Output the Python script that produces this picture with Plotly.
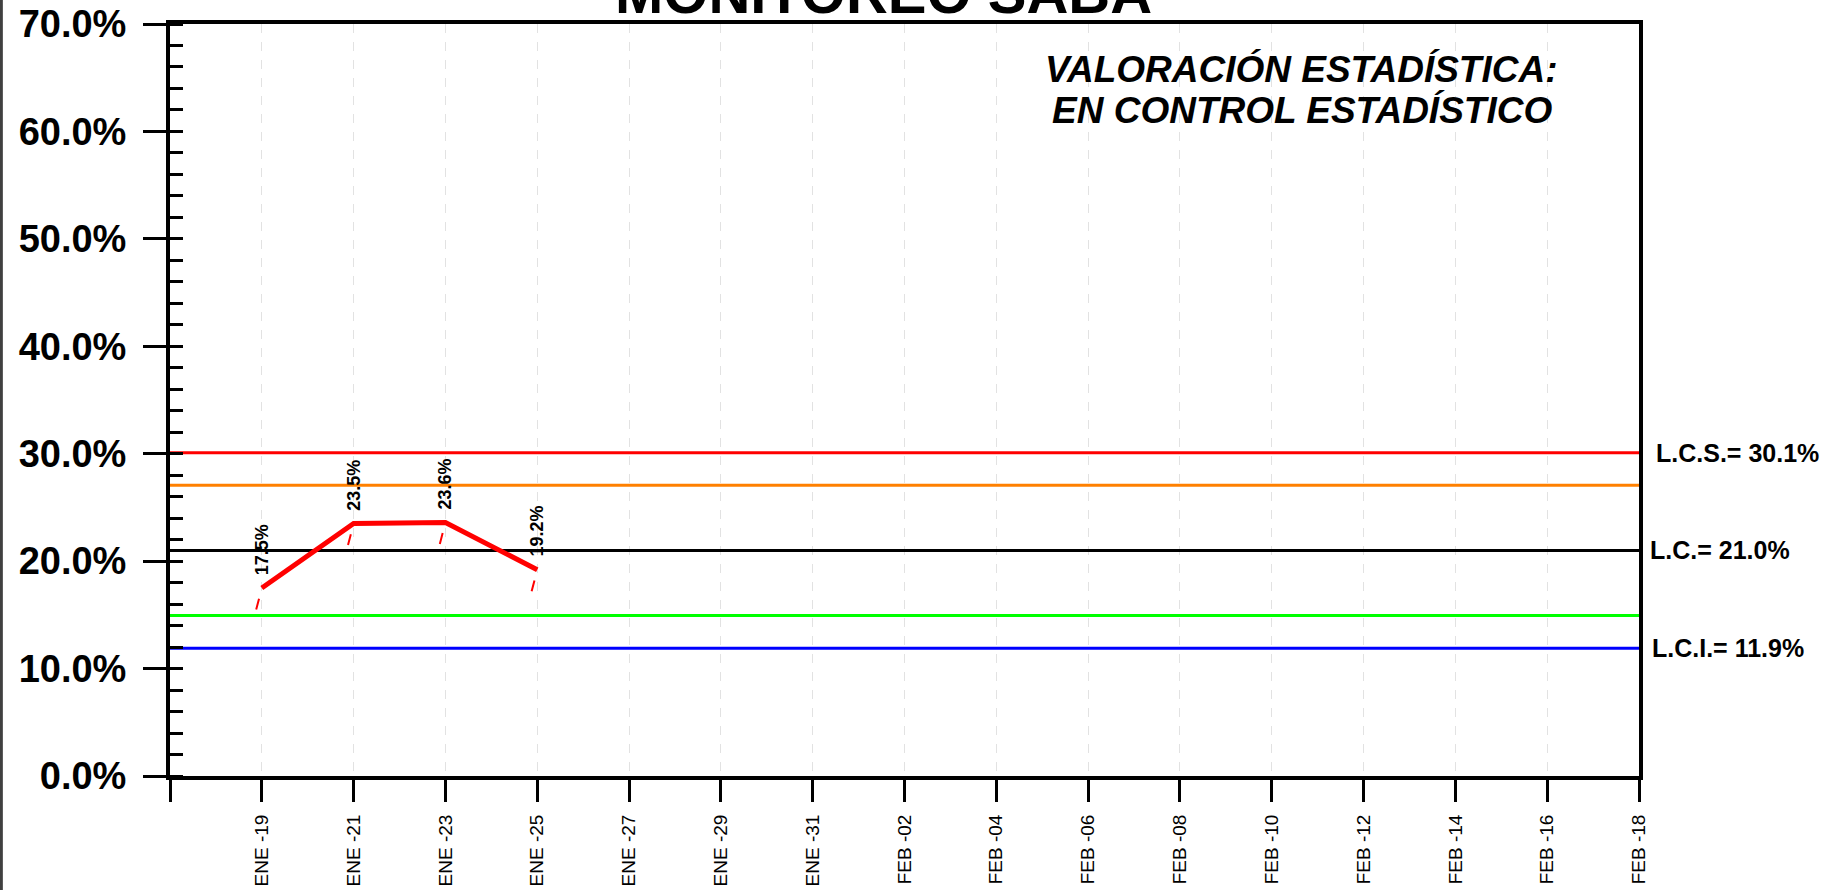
import plotly.graph_objects as go

# Sample dates and measured percentage
dates = ["2024-01-19", "2024-01-21", "2024-01-23", "2024-01-25"]
values = [17.5, 23.5, 23.6, 19.2]

# Control limits
lcs = 30.1          # upper control limit
upper_warn = 27.07  # upper 2-sigma warning
lc = 21.0           # center line
lower_warn = 14.93  # lower 2-sigma warning
lci = 11.9          # lower control limit

# X axis ticks (every two days)
tick_dates = ["2024-01-17", "2024-01-19", "2024-01-21", "2024-01-23", "2024-01-25",
              "2024-01-27", "2024-01-29", "2024-01-31", "2024-02-02", "2024-02-04",
              "2024-02-06", "2024-02-08", "2024-02-10", "2024-02-12", "2024-02-14",
              "2024-02-16", "2024-02-18"]
tick_labels = ["", "ENE -19", "ENE -21", "ENE -23", "ENE -25", "ENE -27", "ENE -29",
               "ENE -31", "FEB -02", "FEB -04", "FEB -06", "FEB -08", "FEB -10",
               "FEB -12", "FEB -14", "FEB -16", "FEB -18"]

FONT = "Liberation Sans, Arial, sans-serif"
x_start, x_end = tick_dates[0], tick_dates[-1]

fig = go.Figure()

# Horizontal limit lines spanning the whole date range
limit_lines = [
    (lcs, "#ff0000"),
    (upper_warn, "#ff8000"),
    (lc, "#000000"),
    (lower_warn, "#00ff00"),
    (lci, "#0000ff"),
]
for level, color in limit_lines:
    fig.add_trace(go.Scatter(
        x=[x_start, x_end], y=[level, level], mode="lines",
        line=dict(color=color, width=3), hoverinfo="skip", showlegend=False,
    ))

# Measured series
fig.add_trace(go.Scatter(
    x=dates, y=values, mode="lines",
    line=dict(color="#ff0000", width=5), showlegend=False,
))

annotations = []

# Value labels with short leader lines
for d, v in zip(dates, values):
    annotations.append(dict(
        x=d, y=v, xref="x", yref="y", text=f"<b>{v:.1f}%</b>",
        textangle=-90, showarrow=False, xanchor="center", yanchor="bottom",
        yshift=11, font=dict(family=FONT, size=18, color="#000000"),
    ))
    annotations.append(dict(
        x=d, y=v, xref="x", yref="y", text="", showarrow=True,
        arrowhead=0, arrowwidth=2, arrowcolor="#ff0000",
        ax=-6, ay=23, standoff=11, startstandoff=0,
    ))

# Limit labels on the right
for text, level, shift in [(f"<b>L.C.S.= {lcs:.1f}%</b>", lcs, 15),
                           (f"<b>L.C.= {lc:.1f}%</b>", lc, 9),
                           (f"<b>L.C.I.= {lci:.1f}%</b>", lci, 11)]:
    annotations.append(dict(
        x=1, y=level, xref="paper", yref="y", text=text, showarrow=False,
        xanchor="left", yanchor="middle", xshift=shift,
        font=dict(family=FONT, size=25, color="#000000"),
    ))

# Title
annotations.append(dict(
    x=0.486, y=1.0, xref="paper", yref="paper", text="<b>MONITOREO SABA</b>",
    showarrow=False, xanchor="center", yanchor="bottom", yshift=-3,
    font=dict(family=FONT, size=58, color="#000000"),
))

# Statistical assessment
annotations.append(dict(
    x=0.7705, y=0.940, xref="paper", yref="paper",
    text="<b><i>VALORACIÓN ESTADÍSTICA:</i></b>", showarrow=False,
    xanchor="center", yanchor="middle",
    font=dict(family=FONT, size=37, color="#000000"),
))
annotations.append(dict(
    x=0.7705, y=0.8856, xref="paper", yref="paper",
    text="<b><i>EN CONTROL ESTADÍSTICO</i></b>", showarrow=False,
    xanchor="center", yanchor="middle",
    font=dict(family=FONT, size=37, color="#000000"),
))

fig.update_layout(
    width=1830, height=890,
    margin=dict(l=170, r=191, t=24, b=114),
    paper_bgcolor="#ffffff", plot_bgcolor="#ffffff",
    font=dict(family=FONT, color="#000000"),
    annotations=annotations,
    shapes=[dict(
        type="line", xref="paper", yref="paper",
        x0=-0.1148, x1=-0.1148, y0=-0.16, y1=1.04,
        line=dict(color="#404040", width=3),
    )],
)

fig.update_xaxes(
    type="date", range=[x_start, x_end], automargin=False,
    tickmode="array", tickvals=tick_dates, ticktext=tick_labels,
    tickangle=-90, tickfont=dict(family=FONT, size=19, color="#000000"),
    ticks="outside", ticklen=22, tickwidth=3, tickcolor="#000000",
    ticklabelstandoff=5,
    showline=True, linewidth=4, linecolor="#000000", mirror=True,
    showgrid=True, gridcolor="#e2e2e2", gridwidth=1, griddash="dash",
    zeroline=False,
)

fig.update_yaxes(
    range=[0, 70], dtick=10, tick0=0, tickformat=".1f", automargin=False,
    tickprefix="<b>", ticksuffix="%</b>",
    tickfont=dict(family=FONT, size=38, color="#000000"),
    ticks="outside", ticklen=23, tickwidth=3, tickcolor="#000000",
    ticklabelstandoff=9,
    minor=dict(dtick=2, ticks="inside", ticklen=13, tickwidth=3,
               tickcolor="#000000", showgrid=False),
    showline=True, linewidth=4, linecolor="#000000", mirror=True,
    showgrid=False, zeroline=False,
)

fig.write_html("out.html")
